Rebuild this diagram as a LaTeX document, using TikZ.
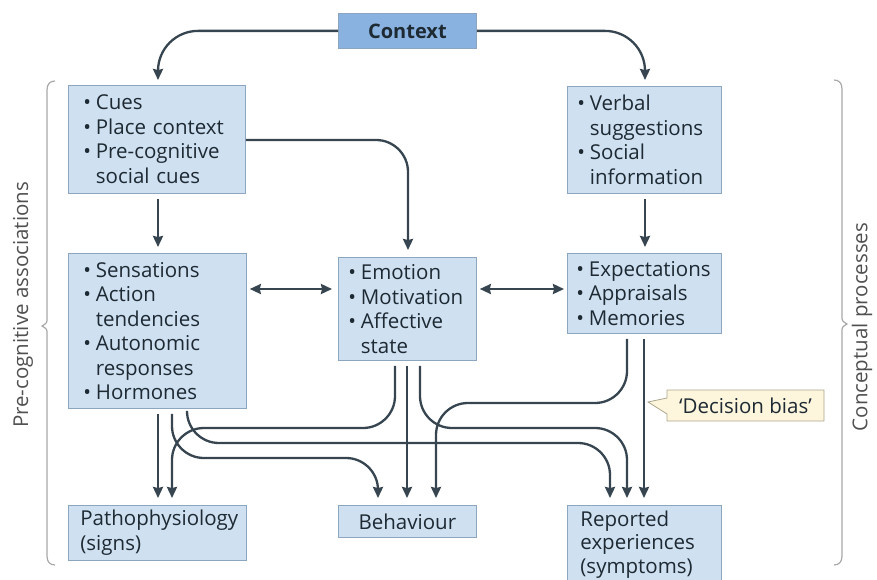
\documentclass[tikz,border=0pt]{standalone}
\usepackage{fontspec}
\setmainfont{Open Sans}
\usetikzlibrary{arrows.meta,calc,shapes.callouts}
\definecolor{boxc}{HTML}{CFE0F1}
\definecolor{bordc}{HTML}{8DA6C0}
\definecolor{ctxc}{HTML}{89B2E0}
\definecolor{arrc}{HTML}{36454F}
\definecolor{txtc}{HTML}{1E2A33}
\definecolor{notec}{HTML}{FDF5DC}
\definecolor{notebord}{HTML}{ABA68E}
\definecolor{bracec}{HTML}{A8A8A8}
\definecolor{labc}{HTML}{505050}
\newcommand{\bl}{\makebox[12.5pt][l]{\textbullet}}
\newcommand{\ind}{\hspace*{12.5pt}}
\begin{document}
\begin{tikzpicture}[x=1pt,y=-1pt,
 box/.style={draw=bordc, fill=boxc, line width=0.8pt, anchor=north west, align=left,
   inner xsep=10pt, inner ysep=0pt, font=\fontsize{20.5}{24.5}\selectfont, text=txtc},
 arr/.style={draw=arrc, line width=2.3pt, -{Stealth[length=11pt,width=10pt,inset=1pt]}, rounded corners=32pt},
 darr/.style={draw=arrc, line width=2.3pt, {Stealth[length=11pt,width=10pt,inset=1pt]}-{Stealth[length=11pt,width=10pt,inset=1pt]}},
 sidelab/.style={rotate=90, font=\fontsize{20.5}{24}\selectfont, text=labc},
 bracestyle/.style={draw=bracec, line width=1.2pt}]
\useasboundingbox (0,0) rectangle (877,580);
\clip (0,0) rectangle (877,580);

% boxes
\node[box, fill=ctxc, draw=bordc, align=center, font=\bfseries\fontsize{20}{24}\selectfont,
  minimum width=138pt, minimum height=35pt, inner xsep=0pt] (ctx) at (338,13) {Context};
\node[box, inner xsep=15pt, text width=147pt, minimum height=108pt] (A) at (68,85)
  {\bl Cues\\ \bl Place context\\ \bl Pre-cognitive\\ \ind social cues};
\node[box, text width=134pt, minimum height=107pt] (B) at (567,86)
  {\bl Verbal\\ \ind suggestions\\ \bl Social\\ \ind information};
\node[box, inner xsep=15pt, text width=148pt, minimum height=155pt] (C) at (68,253)
  {\bl Sensations\\ \bl Action\\ \ind tendencies\\ \bl Autonomic\\ \ind responses\\ \bl Hormones};
\node[box, text width=118pt, minimum height=103pt] (D) at (338,257)
  {\bl Emotion\\ \bl Motivation\\ \bl Affective\\ \ind state};
\node[box, inner xsep=9pt, text width=136pt, minimum height=80pt] (E) at (567,253)
  {\bl Expectations\\ \bl Appraisals\\ \bl Memories};
\node[box, inner xsep=12pt, text width=154pt, minimum height=55pt] (P) at (68,505)
  {Pathophysiology\\ (signs)};
\node[box, align=center, text width=118pt, minimum height=32pt] (Bh) at (338,505)
  {Behaviour};
\node[box, inner xsep=13pt, text width=128pt, minimum height=78pt,
  font=\fontsize{20.5}{23.5}\selectfont] (R) at (567,505)
  {Reported\\ experiences\\ (symptoms)};

% side labels
\node[sidelab] (lpre) at (23,305) {Pre-cognitive associations};
\node[sidelab] (lcon) at (862,327) {Conceptual processes};

% braces
\draw[bracestyle] (55,81) .. controls (50,81) and (47,84) .. (47,90) -- (47,318)
  .. controls (47,323) .. (42,326) .. controls (47,329) .. (47,334) -- (47,556)
  .. controls (47,562) and (50,565) .. (55,565);
\draw[bracestyle] (834,80) .. controls (839,80) and (842,83) .. (842,89) -- (842,316)
  .. controls (842,321) .. (847,324) .. controls (842,327) .. (842,332) -- (842,556)
  .. controls (842,562) and (839,565) .. (834,565);

% top arrows
\draw[arr, rounded corners=40pt] (ctx.west) -| ($(A.north west)+(90,-5)$);
\draw[arr, rounded corners=40pt] (ctx.east) -| ($(B.north west)+(78,-6)$);
\draw[arr] ($(A.north east)+(0,55)$) -| ($(D.north west)+(70,-7)$);
\draw[arr] ($(A.south west)+(90,5)$) -- ($(C.north west)+(90,-6)$);
\draw[arr] ($(B.south west)+(78,5)$) -- ($(E.north west)+(78,-6)$);
\draw[darr] ($(C.north east)+(3,36)$) -- ($(D.north west)+(-6,32)$);
\draw[darr] ($(D.north east)+(3,32)$) -- ($(E.north west)+(-3,36)$);

% bottom arrows
\draw[arr] ($(C.south west)+(90,5)$) -- ($(P.north west)+(90,-7)$);
\draw[arr] ($(C.south west)+(104,5)$) |- ($(Bh.north west)+(40,-47)$) -- ($(Bh.north west)+(40,-7)$);
\draw[arr] ($(C.south west)+(119,5)$) |- ($(R.north west)+(43,-62)$) -- ($(R.north west)+(43,-7)$);
\draw[arr] ($(D.south west)+(57,5)$) |- ($(P.north west)+(104,-77)$) -- ($(P.north west)+(104,-7)$);
\draw[arr] ($(D.south west)+(69,5)$) -- ($(Bh.north west)+(69,-7)$);
\draw[arr] ($(D.south west)+(82,5)$) |- ($(R.north west)+(60,-77)$) -- ($(R.north west)+(60,-7)$);
\draw[arr] ($(E.south west)+(60,5)$) |- ($(Bh.north west)+(98,-102)$) -- ($(Bh.north west)+(98,-7)$);
\draw[arr] ($(E.south west)+(77,5)$) -- ($(R.north west)+(77,-7)$);

% decision bias callout
\node[rectangle callout, draw=notebord, fill=notec, line width=0.8pt, text=txtc,
  font=\fontsize{20.5}{24.5}\selectfont, minimum width=157pt, minimum height=31pt, inner sep=0pt,
  callout absolute pointer={(648,402)}, callout pointer width=16pt] (db) at (745.5,405.5) {‘Decision bias’};
\end{tikzpicture}
\end{document}
